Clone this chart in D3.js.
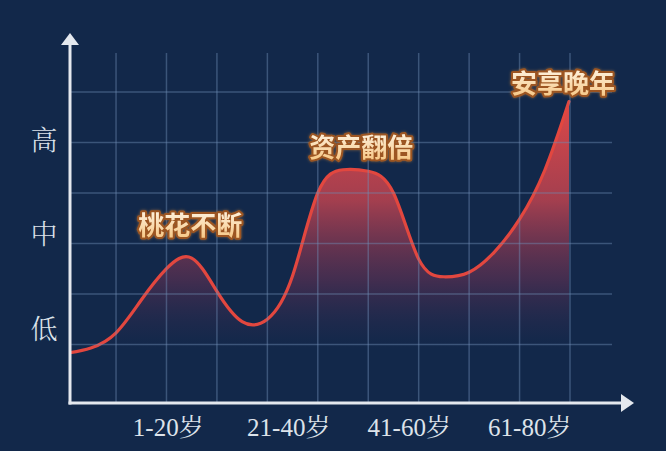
<!DOCTYPE html>
<html><head><meta charset="utf-8">
<script src="https://cdn.jsdelivr.net/npm/d3@7/dist/d3.min.js"></script>
<style>html,body{margin:0;padding:0;background:#12284a;}svg{display:block;}</style>
</head><body>
<script>
// ---- data ----
const categories = ["1-20岁", "21-40岁", "41-60岁", "61-80岁"];
const levels = ["低", "中", "高"];
const curveX = [0, 0.5, 1, 1.5, 2, 2.5, 3, 3.5, 4, 4.5, 5, 5.5, 6, 6.5, 7, 7.5, 8, 8.5, 9, 9.5, 9.98];
const curveV = [0.82, 0.93, 1.23, 1.88, 2.50, 2.71, 2.05, 1.45, 1.50, 2.36, 4.00, 4.46, 4.43, 4.00, 2.69, 2.34, 2.43, 2.83, 3.48, 4.45, 5.81];
const notes = ["桃花不断", "资产翻倍", "安享晚年"];
const noteX = [2.47, 5.86, 9.86];
const noteV = [3.40, 4.95, 6.20];
const gridX = [1, 2, 3, 4, 5, 6, 7, 8, 9, 10];
const gridY = [1, 2, 3, 4, 5, 6];

const W = 666, H = 451;
const left = 70, bottom = 403, gridTop = 53, gridRight = 612;
const svg = d3.select("body").append("svg").attr("width", W).attr("height", H);
svg.append("rect").attr("width", W).attr("height", H).attr("fill", "#12284a");

const x = d3.scaleLinear().domain([0, 10]).range([65.6, 570]);
const y = d3.scaleLinear().domain([0, 6]).range([394.9, 92]);
const xc = d3.scaleBand().domain(categories).range([108, 590]);
const yl = d3.scalePoint().domain(levels).range([327, 138]);

const defs = svg.append("defs");
const fg = defs.append("linearGradient").attr("id", "fillg").attr("gradientUnits", "userSpaceOnUse")
  .attr("x1", 0).attr("x2", 0).attr("y1", y(5.8)).attr("y2", y(0.9));
fg.append("stop").attr("offset", "0%").attr("stop-color", "#e84a48").attr("stop-opacity", 0.95);
fg.append("stop").attr("offset", "40%").attr("stop-color", "#cc4550").attr("stop-opacity", 0.78);
fg.append("stop").attr("offset", "72%").attr("stop-color", "#7e3456").attr("stop-opacity", 0.45);
fg.append("stop").attr("offset", "100%").attr("stop-color", "#3a2a55").attr("stop-opacity", 0);

const tg = defs.append("linearGradient").attr("id", "textg").attr("x1", 0).attr("x2", 0).attr("y1", 0).attr("y2", 1);
tg.append("stop").attr("offset", "0%").attr("stop-color", "#fffbf2");
tg.append("stop").attr("offset", "100%").attr("stop-color", "#f6c27a");

const glow = defs.append("filter").attr("id", "glow").attr("x", "-20%").attr("y", "-40%").attr("width", "140%").attr("height", "180%");
glow.append("feGaussianBlur").attr("in", "SourceAlpha").attr("stdDeviation", 1.5).attr("result", "b");
glow.append("feFlood").attr("flood-color", "#d98a3a").attr("flood-opacity", 0.55);
glow.append("feComposite").attr("in2", "b").attr("operator", "in").attr("result", "g");
const fm = glow.append("feMerge");
fm.append("feMergeNode").attr("in", "g");
fm.append("feMergeNode").attr("in", "SourceGraphic");

defs.append("clipPath").attr("id", "plotclip").append("rect")
  .attr("x", left).attr("y", 0).attr("width", W - left).attr("height", bottom);

const pts = curveX.map((d, i) => [d, curveV[i]]);
const crv = d3.curveNatural;
const plot = svg.append("g").attr("clip-path", "url(#plotclip)");

plot.append("path").datum(pts)
  .attr("d", d3.area().x(d => x(d[0])).y0(bottom).y1(d => y(d[1])).curve(crv))
  .attr("fill", "url(#fillg)");

// grid
const grid = svg.append("g").attr("stroke", "#6f8bb4").attr("stroke-opacity", 0.45).attr("stroke-width", 1.5);
grid.selectAll(".v").data(gridX).join("line")
  .attr("x1", d => x(d)).attr("x2", d => x(d)).attr("y1", gridTop).attr("y2", bottom);
grid.selectAll(".h").data(gridY).join("line")
  .attr("x1", left).attr("x2", gridRight).attr("y1", d => y(d)).attr("y2", d => y(d));

plot.append("path").datum(pts)
  .attr("d", d3.line().x(d => x(d[0])).y(d => y(d[1])).curve(crv))
  .attr("fill", "none").attr("stroke", "#e2473f").attr("stroke-width", 3.2).attr("stroke-linecap", "round");

// axes
const axc = "#e4e8ee";
svg.append("line").attr("x1", left).attr("x2", left).attr("y1", bottom + 1.5).attr("y2", 44).attr("stroke", axc).attr("stroke-width", 3);
svg.append("line").attr("x1", left - 1.5).attr("x2", 622).attr("y1", bottom).attr("y2", bottom).attr("stroke", axc).attr("stroke-width", 3);
svg.append("path").attr("d", `M${left},33 L${left + 9},45 L${left - 9},45 Z`).attr("fill", axc);
svg.append("path").attr("d", `M634,${bottom} L621,${bottom - 9} L621,${bottom + 9} Z`).attr("fill", axc);

const lblFont = "'Liberation Serif', 'Noto Serif CJK SC', 'Noto Sans CJK SC', serif";
svg.selectAll(".xl").data(categories).join("text")
  .attr("x", d => xc(d) + xc.bandwidth() / 2).attr("y", 427)
  .attr("text-anchor", "middle").attr("dominant-baseline", "central")
  .attr("font-family", lblFont).attr("font-size", 25).attr("fill", "#dde3ea").text(d => d);

svg.selectAll(".yl").data(levels).join("text")
  .attr("x", 44).attr("y", d => yl(d))
  .attr("text-anchor", "middle").attr("dominant-baseline", "central")
  .attr("font-family", "'Noto Serif CJK SC', 'Noto Sans CJK SC', serif").attr("font-weight", 300)
  .attr("font-size", 27).attr("fill", "#dde3ea").text(d => d);

// annotations
svg.selectAll(".note").data(notes).join("text")
  .attr("x", (d, i) => x(noteX[i])).attr("y", (d, i) => y(noteV[i]))
  .attr("text-anchor", "middle").attr("dominant-baseline", "central")
  .attr("font-family", "'Noto Sans CJK SC', sans-serif").attr("font-weight", 700).attr("font-size", 26)
  .attr("fill", "url(#textg)").attr("stroke", "#9c5420").attr("stroke-width", 4)
  .attr("paint-order", "stroke").attr("stroke-linejoin", "round")
  .attr("filter", "url(#glow)").text(d => d);
</script>
</body></html>
